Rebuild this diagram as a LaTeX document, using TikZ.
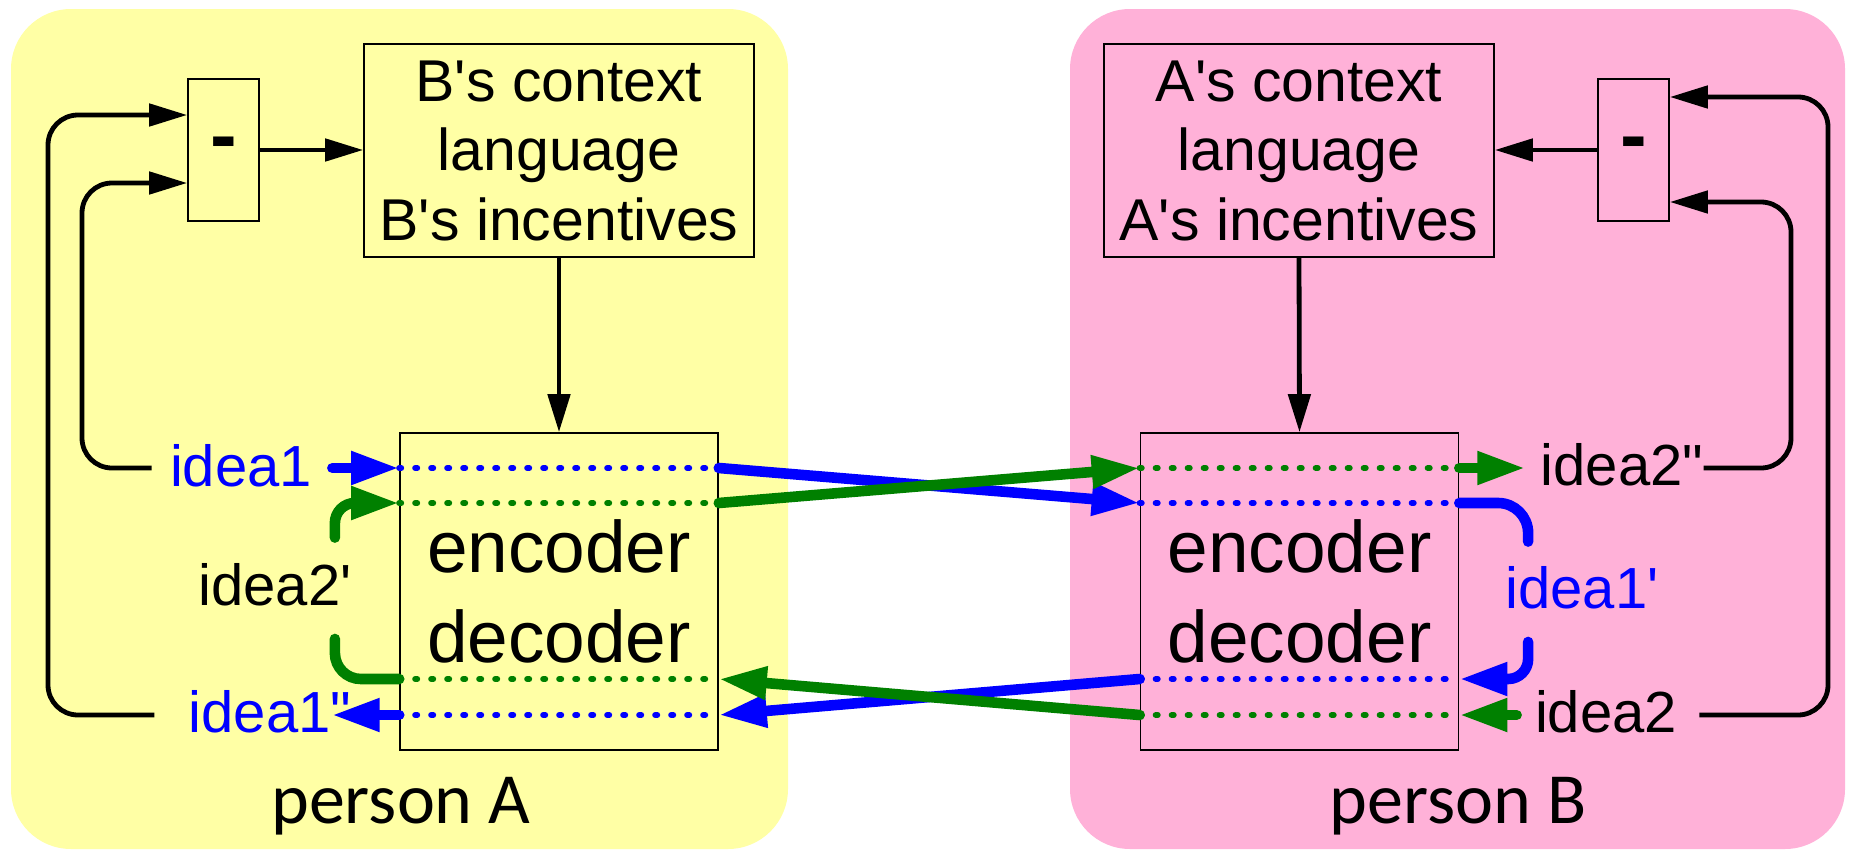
\documentclass[tikz,border=0pt]{standalone}
\usepackage{fontspec}
\setmainfont{Liberation Sans}[Ligatures=TeXOff]
\newfontfamily\calib{Carlito}[Ligatures=TeXOff]
\usetikzlibrary{arrows.meta,calc}
\definecolor{ylw}{HTML}{FFFFA5}
\definecolor{pnk}{HTML}{FFB1D8}
\definecolor{bl}{HTML}{0000FF}
\definecolor{gr}{HTML}{008000}
\begin{document}
\begin{tikzpicture}[x=0.5pt,y=-0.5pt,
  panel/.style={draw=none, rounded corners=30pt, inner sep=0pt},
  box/.style={draw=black, line width=0.8pt, inner sep=0pt},
  ctx/.style={box, minimum width=195pt, minimum height=106.5pt, align=center, font=\fontsize{29.5pt}{34.75pt}\selectfont},
  enc/.style={box, minimum width=159pt, minimum height=158.5pt, align=center, font=\fontsize{36.5pt}{45pt}\selectfont},
  minusbox/.style={box, minimum width=35.5pt, minimum height=71pt, font=\fontsize{40pt}{40pt}\selectfont\bfseries},
  lbl/.style={inner sep=0pt, anchor=base, font=\fontsize{29pt}{34pt}\selectfont},
  person/.style={inner sep=0pt, anchor=base, font=\calib\fontsize{36pt}{40pt}\selectfont},
  blk/.style={line width=2.4pt, rounded corners=15pt},
  blkarr/.style={blk, -{Triangle[length=19pt,width=11pt]}},
  bthick/.style={bl, line width=5.3pt, line cap=round},
  gthick/.style={gr, line width=5.3pt, line cap=round},
  colarr/.style={-{Triangle[length=24pt,width=15.5pt]}},
  bdot/.style={bl, line width=3pt, line cap=round, dash pattern=on 1pt off 7pt},
  gdot/.style={gr, line width=3pt, line cap=round, dash pattern=on 1pt off 7pt}
]
\useasboundingbox (0,0) rectangle (1852,851);
% panels
\node[panel, fill=ylw, minimum width=388.5pt, minimum height=420pt] (panA) at (399.5,429) {};
\node[panel, fill=pnk, minimum width=387.5pt, minimum height=420pt] (panB) at (1457.5,429) {};
% boxes
\node[ctx] (ctxA) at (559,150.5) {B's context\\language\\B's incentives};
\node[ctx] (ctxB) at (1299,150.5) {A's context\\language\\A's incentives};
\node[minusbox] (minA) at (223.5,150) {-};
\node[minusbox] (minB) at (1633.5,150) {-};
\node[enc] (encA) at (559,591.5) {encoder\\decoder};
\node[enc] (encB) at (1299.5,591.5) {encoder\\decoder};
% labels
\node[lbl, text=bl] (i1) at (241,486) {idea1};
\node[lbl] (i2p) at (275,605) {idea2'};
\node[lbl, text=bl] (i1pp) at (270,732) {idea1"};
\node[lbl] (i2pp) at (1622,485) {idea2"};
\node[lbl, text=bl] (i1p) at (1582,608) {idea1'};
\node[lbl] (i2) at (1606,732) {idea2};
\node[person] (pA) at (401,823) {person A};
\node[person] (pB) at (1458,823) {person B};
% levels
\coordinate (L1) at (0,468);
\coordinate (L2) at (0,503);
\coordinate (L3) at (0,679);
\coordinate (L4) at (0,715);
% black connectors
\draw[blkarr] ($(i1.west|-L1)+(-18,0)$) -- (82,468) -- (82,183) -- ([yshift=-16.5pt]minA.west);
\draw[blkarr] ($(i1pp.west|-L4)+(-34,0)$) -- (48,715) -- (48,115) -- ([yshift=17.5pt]minA.west);
\draw[blkarr] (i2pp.east|-L1) -- (1791,468) -- (1791,202) -- ([yshift=-26pt]minB.east);
\draw[blkarr] ($(i2.east|-L4)+(22,0)$) -- (1828,715) -- (1828,97) -- ([yshift=26.5pt]minB.east);
\draw[blkarr] (minA.east) -- (ctxA.west|-minA.east);
\draw[blkarr] (minB.west) -- (ctxB.east|-minB.west);
\draw[blkarr] (ctxA.south) -- (encA.north);
\draw[blkarr] (ctxB.south) -- (encB.north);
% dotted lines through the coders
\draw[bdot] (encA.west|-L1) -- (encA.east|-L1);
\draw[gdot] (encA.west|-L2) -- (encA.east|-L2);
\draw[gdot] (encA.west|-L3) -- (encA.east|-L3);
\draw[bdot] (encA.west|-L4) -- (encA.east|-L4);
\draw[gdot] (encB.west|-L1) -- (encB.east|-L1);
\draw[bdot] (encB.west|-L2) -- (encB.east|-L2);
\draw[bdot] (encB.west|-L3) -- (encB.east|-L3);
\draw[gdot] (encB.west|-L4) -- (encB.east|-L4);
% crossing
\draw[bthick, colarr] (encA.east|-L1) -- (encB.west|-L2);
\draw[gthick, colarr] (encA.east|-L2) -- (encB.west|-L1);
\draw[bthick, colarr] (encB.west|-L3) -- (encA.east|-L4);
\draw[gthick, colarr] (encB.west|-L4) -- (encA.east|-L3);
% person A side
\draw[bthick, colarr] ($(i1.east|-L1)+(20,0)$) -- (encA.west|-L1);
\draw[bthick, colarr] (encA.west|-L4) -- ($(i1pp.east|-L4)+(-20,0)$);
\draw[gthick, colarr, rounded corners=10pt] ($(i2p.north east)+(-17,-25)$) -- ($(i2p.east|-L2)+(-17,0)$) -- (encA.west|-L2);
\draw[gthick, rounded corners=13pt] (encA.west|-L3) -- ($(i2p.east|-L3)+(-17,0)$) -- ($(i2p.south east)+(-17,33)$);
% person B side
\draw[gthick, colarr] (encB.east|-L1) -- ($(i2pp.west|-L1)+(-15,0)$);
\draw[gthick, colarr] ($(i2.west|-L4)+(-18,0)$) -- (encB.east|-L4);
\draw[bthick, rounded corners=15pt] (encB.east|-L2) -- ($(i1p.west|-L2)+(23,0)$) -- ($(i1p.north west)+(23,-24)$);
\draw[bthick, colarr, rounded corners=10pt] ($(i1p.south west)+(23,33)$) -- ($(i1p.west|-L3)+(23,0)$) -- (encB.east|-L3);
\end{tikzpicture}
\end{document}
